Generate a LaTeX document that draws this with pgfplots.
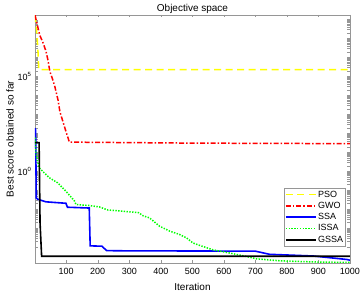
\documentclass[border=0pt]{standalone}
\usepackage{pgfplots}
\pgfplotsset{compat=1.18}
\usepackage{fontspec}
\setmainfont{Liberation Sans}
\definecolor{frame}{RGB}{150,150,150}
\definecolor{cPSO}{RGB}{255,255,0}
\definecolor{cGWO}{RGB}{255,0,0}
\definecolor{cSSA}{RGB}{0,0,255}
\definecolor{cISSA}{RGB}{0,255,0}
\begin{document}
\begin{tikzpicture}
\path[use as bounding box] (-35pt,-31pt) rectangle (327pt,263pt);
\begin{axis}[
  scale only axis,
  width=315pt, height=248pt,
  xmin=1, xmax=1000,
  ymode=log,
  ymin=1.5e-5, ymax=1.74e8,
  xtick={100,200,300,400,500,600,700,800,900,1000},
  ytick={1e-4,1e-3,1e-2,1e-1,1,1e1,1e2,1e3,1e4,1e5,1e6,1e7,1e8},
  yticklabels={,,,,10\textsuperscript{0},,,,,10\textsuperscript{5},,,},
  tick align=inside,
  major tick length=2.5pt,
  minor tick num=0,
  every tick/.style={frame},
  axis line style={frame, line width=0.8pt},
  tick label style={font=\fontsize{9}{10}\selectfont, black},
  xticklabel style={yshift=-2pt},
  /pgf/number format/assume math mode=true,
  /pgf/number format/1000 sep={},
  label style={font=\fontsize{10}{12}\selectfont},
  title style={font=\fontsize{10}{12}\selectfont, yshift=-8pt},
  title={Objective space},
  xlabel={Iteration},
  ylabel={Best score obtained so far},
  xlabel style={yshift=-1pt},
  ylabel style={yshift=-3pt},
  legend style={at={(0.987,0.065)}, anchor=south east, draw=frame,
    font=\fontsize{9}{10}\selectfont, row sep=-0.5pt, inner sep=1pt,
    nodes={inner xsep=1.5pt}},
  legend cell align=left,
  legend image code/.code={\draw[#1] (0pt,0pt) -- (30pt,0pt);},
  clip=true,
]
\addlegendimage{color=cPSO, line width=1.5pt, dash pattern=on 7pt off 4.5pt}
\addlegendentry{PSO}
\addlegendimage{color=cGWO, line width=1.5pt, dash pattern=on 5pt off 2pt on 1.5pt off 2pt}
\addlegendentry{GWO}
\addlegendimage{color=cSSA, line width=1.6pt, solid}
\addlegendentry{SSA}
\addlegendimage{color=cISSA, line width=1.5pt, dash pattern=on 1.4pt off 1.4pt}
\addlegendentry{ISSA}
\addlegendimage{color=black, line width=1.6pt, solid}
\addlegendentry{GSSA}
\addplot[forget plot, color=cPSO, line width=1.5pt, dash pattern=on 7pt off 4.5pt] coordinates {
(1,1.7e8) (5,4.4e7) (10,3.2e6) (13,2.3e5) (1000,2.3e5)};
\addplot[forget plot, color=cGWO, line width=1.5pt, dash pattern=on 5pt off 2pt on 1.5pt off 2pt] coordinates {
(1,1.7e8) (16,1.5e7) (26,6.3e6) (36,2.1e6) (42,7.4e5) (48,1.9e5) (57,7e4) (64,2.9e4)
(74,5.8e3) (80,1.4e3) (94,2.4e2) (110,35) (200,34) (500,31) (1000,29)};
\addplot[forget plot, color=cSSA, line width=1.6pt, solid] coordinates {
(1,190) (3,150) (5,0.04) (10,0.034) (36,0.025) (99,0.021) (104,0.013) (173,0.0118)
(176,1.2e-4) (213,1.15e-4) (228,6.8e-5) (258,6.6e-5) (700,6.3e-5) (745,4.3e-5)
(884,3.5e-5) (990,2.3e-5) (1000,2.1e-5)};
\addplot[forget plot, color=cISSA, line width=1.5pt, dash pattern=on 1.4pt off 1.4pt] coordinates {
(1,60) (4,9.5) (14,1.55) (46,0.47) (73,0.25) (99,0.091) (126,0.028) (131,0.018)
(173,0.016) (205,0.0135) (232,0.0093) (329,0.0068) (345,0.0045) (364,0.0036)
(396,0.0013) (428,7.2e-4) (459,4.8e-4) (481,3.2e-4) (502,1.7e-4) (534,1.1e-4)
(566,7.4e-5) (619,5e-5) (672,3.3e-5) (703,2.5e-5) (778,1.95e-5) (884,1.7e-5) (1000,1.6e-5)};
\addplot[forget plot, color=black, line width=1.6pt, solid] coordinates {
(1,33) (14,33) (17,2e-3) (22,3.4e-5) (1000,3.4e-5)};
\end{axis}
\end{tikzpicture}
\end{document}
